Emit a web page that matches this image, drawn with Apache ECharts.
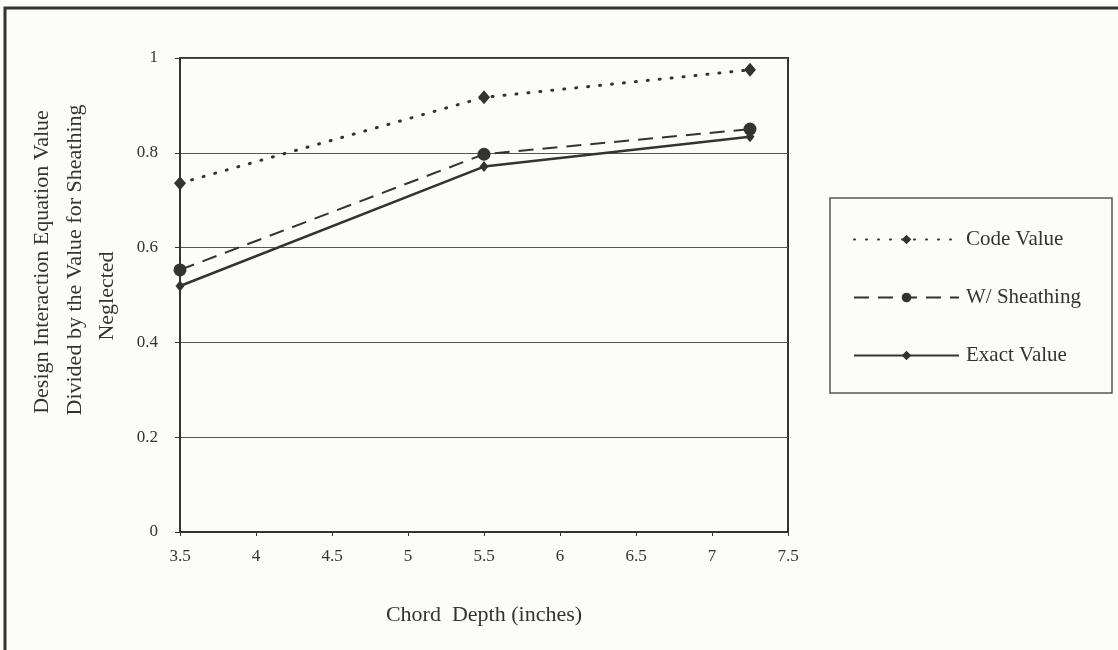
<!DOCTYPE html>
<html>
<head>
<meta charset="utf-8">
<script src="https://cdn.jsdelivr.net/npm/echarts@6/dist/echarts.min.js"></script>
<style>
  html, body { margin: 0; padding: 0; background: #fcfcf8; }
  #chart { width: 1118px; height: 650px; }
</style>
</head>
<body>
<div id="chart"></div>
<script>
// chord depth (inches)
const depths = [3.5, 5.5, 7.25]
// interaction value / value with sheathing neglected
const codeValue = [0.736, 0.917, 0.975]
const withSheathing = [0.553, 0.797, 0.850]
const exactValue = [0.519, 0.771, 0.834]

const seriesNames = ['Code Value', 'W/ Sheathing', 'Exact Value']
const yTitleLines = ['Design Interaction Equation Value', 'Divided by the Value for Sheathing', 'Neglected']
const xTitle = 'Chord  Depth (inches)'

const ink = '#333'
const font = 'Liberation Serif, Times New Roman, serif'

const toPairs = (vals) => vals.map((v, i) => [depths[i], v])

const chart = echarts.init(document.getElementById('chart'), null, { renderer: 'canvas' })

const option = {
  backgroundColor: '#fcfcf8',
  animation: false,
  grid: {
    left: 180,
    right: 330,
    top: 58,
    bottom: 118,
    show: true,
    borderColor: ink,
    borderWidth: 2,
    containLabel: false
  },
  xAxis: {
    type: 'value',
    min: 3.5,
    max: 7.5,
    interval: 0.5,
    name: xTitle,
    nameLocation: 'middle',
    nameGap: 72,
    nameTextStyle: { fontFamily: font, fontSize: 22, color: ink },
    axisLine: { show: true, lineStyle: { color: ink, width: 2 } },
    axisTick: { show: true, length: 4, lineStyle: { color: ink } },
    axisLabel: { fontFamily: font, fontSize: 17, color: ink, margin: 16 },
    splitLine: { show: false }
  },
  yAxis: {
    type: 'value',
    min: 0,
    max: 1,
    interval: 0.2,
    axisLine: { show: true, lineStyle: { color: ink, width: 2 } },
    axisTick: { show: true, length: 5, lineStyle: { color: ink } },
    axisLabel: { fontFamily: font, fontSize: 17, color: ink, margin: 22 },
    splitLine: { show: true, lineStyle: { color: '#555', width: 1 } }
  },
  legend: {
    orient: 'vertical',
    left: 848,
    top: 224,
    itemWidth: 105,
    itemHeight: 12,
    itemGap: 37,
    textStyle: { fontFamily: font, fontSize: 21, color: ink, padding: [0, 0, 0, 2] },
    data: seriesNames
  },
  graphic: [
    {
      type: 'rect',
      shape: { x: 5, y: 8, width: 1200, height: 700 },
      style: { fill: 'none', stroke: ink, lineWidth: 3 },
      silent: true
    },
    {
      type: 'rect',
      shape: { x: 830, y: 198, width: 282, height: 195 },
      style: { fill: 'none', stroke: '#555', lineWidth: 1.5 },
      silent: true
    },
    {
      type: 'text',
      x: 42, y: 262, rotation: Math.PI / 2,
      style: { text: yTitleLines[0], font: '22px ' + font, fill: ink, align: 'center', verticalAlign: 'middle' }
    },
    {
      type: 'text',
      x: 75, y: 260, rotation: Math.PI / 2,
      style: { text: yTitleLines[1], font: '22px ' + font, fill: ink, align: 'center', verticalAlign: 'middle' }
    },
    {
      type: 'text',
      x: 107, y: 296, rotation: Math.PI / 2,
      style: { text: yTitleLines[2], font: '22px ' + font, fill: ink, align: 'center', verticalAlign: 'middle' }
    }
  ],
  series: [
    {
      name: seriesNames[0],
      type: 'line',
      data: toPairs(codeValue),
      symbol: 'diamond',
      symbolSize: [12, 14],
      itemStyle: { color: ink },
      lineStyle: { color: ink, width: 3, type: [1, 11], cap: 'round' }
    },
    {
      name: seriesNames[1],
      type: 'line',
      data: toPairs(withSheathing),
      symbol: 'circle',
      symbolSize: 13,
      itemStyle: { color: ink },
      lineStyle: { color: ink, width: 2, type: [15, 9] }
    },
    {
      name: seriesNames[2],
      type: 'line',
      data: toPairs(exactValue),
      symbol: 'diamond',
      symbolSize: [9, 11],
      itemStyle: { color: ink },
      lineStyle: { color: ink, width: 2.5, type: 'solid' }
    }
  ]
}

chart.setOption(option)
</script>
</body>
</html>
